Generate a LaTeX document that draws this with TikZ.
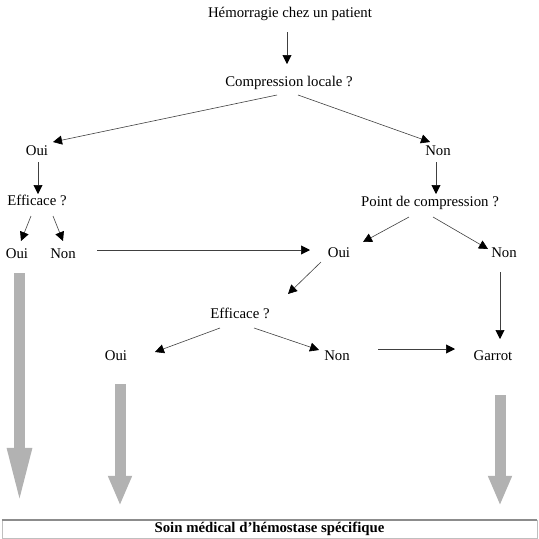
\documentclass[tikz,border=0pt]{standalone}
\usepackage{fontspec}
\setmainfont{Liberation Serif}
\usetikzlibrary{arrows.meta,calc}
\begin{document}
\begin{tikzpicture}[x=1pt,y=-1pt,
  lbl/.style={inner sep=0pt,text height=10pt,text depth=3pt,font=\fontsize{14.8}{16}\selectfont},
  link/.style={draw=black!75,line width=0.6pt,-{Triangle[length=9pt,width=9pt,black]}},
  bigarrow/.style={draw=black!30,line width=11pt},
]
\useasboundingbox (0,0) rectangle (539,539);

% question and answer labels
\node[lbl] (h)  at (290,14)  {Hémorragie chez un patient};
\node[lbl] (cl) at (289,83)  {Compression locale ?};
\node[lbl] (o1) at (37,152)  {Oui};
\node[lbl] (n1) at (438,152) {Non};
\node[lbl] (e1) at (37,202)  {Efficace ?};
\node[lbl] (pc) at (430,203) {Point de compression ?};
\node[lbl] (o2) at (17,255)  {Oui};
\node[lbl] (n2) at (63,255)  {Non};
\node[lbl] (o3) at (339,254) {Oui};
\node[lbl] (n3) at (504,254) {Non};
\node[lbl] (e2) at (240,315) {Efficace ?};
\node[lbl] (o4) at (116,357) {Oui};
\node[lbl] (n4) at (337,357) {Non};
\node[lbl] (g)  at (493,357) {Garrot};

% final care box
\node[draw=black!25,line width=0.5pt,minimum width=535pt,minimum height=18pt,inner sep=0pt,
      font=\fontsize{14.8}{16}\selectfont\bfseries] (bx) at (269.5,529)
      {Soin médical d’hémostase spécifique};
\draw[black!45,line width=1.6pt] (bx.north west) -- (bx.north east);

% decision connectors
\draw[link] ([shift={(-3,18)}]h.center)   -- ([shift={(-2,-19)}]cl.center);
\draw[link] ([shift={(-12,12)}]cl.center) -- ([shift={(16,-10)}]o1.center);
\draw[link] ([shift={(9,12)}]cl.center)   -- ([shift={(-8,-10)}]n1.center);
\draw[link] ([shift={(1,10)}]o1.center)   -- ([shift={(1,-8)}]e1.center);
\draw[link] ([shift={(-2,10)}]n1.center)  -- ([shift={(6,-9)}]pc.center);
\draw[link] ([shift={(-6,14)}]e1.center)  -- ([shift={(4,-14)}]o2.center);
\draw[link] ([shift={(16,14)}]e1.center)  -- ([shift={(0,-14)}]n2.center);
\draw[link] ([shift={(34,-5)}]n2.center)  -- ([shift={(-29,-4)}]o3.center);
\draw[link] ([shift={(-21,14)}]pc.center) -- ([shift={(24,-12)}]o3.center);
\draw[link] ([shift={(3,14)}]pc.center)   -- ([shift={(-16,-5)}]n3.center);
\draw[link] ([shift={(-18,8)}]o3.center)  -- ([shift={(48,-21)}]e2.center);
\draw[link] ([shift={(-4,18)}]n3.center)  -- ([shift={(7,-18)}]g.center);
\draw[link] ([shift={(-20,13)}]e2.center) -- ([shift={(39,-5)}]o4.center);
\draw[link] ([shift={(14,13)}]e2.center)  -- ([shift={(-18,-7)}]n4.center);
\draw[link] ([shift={(41,-8)}]n4.center)  -- ([shift={(-38,-8)}]g.center);

% broad grey arrows into the final box
\draw[bigarrow,-{Triangle[length=58pt,width=22pt]}]
  ([shift={(2.5,18)}]o2.center) -- ($(o2.center |- bx.north)+(2.5,-14)$);
\draw[bigarrow,-{Triangle[length=30pt,width=22pt]}]
  ([shift={(4,27)}]o4.center) -- ($(o4.center |- bx.north)+(4,-14)$);
\draw[bigarrow,-{Triangle[length=30pt,width=22pt]}]
  ([shift={(7,38)}]g.center) -- ($(g.center |- bx.north)+(7,-14)$);
\end{tikzpicture}
\end{document}
